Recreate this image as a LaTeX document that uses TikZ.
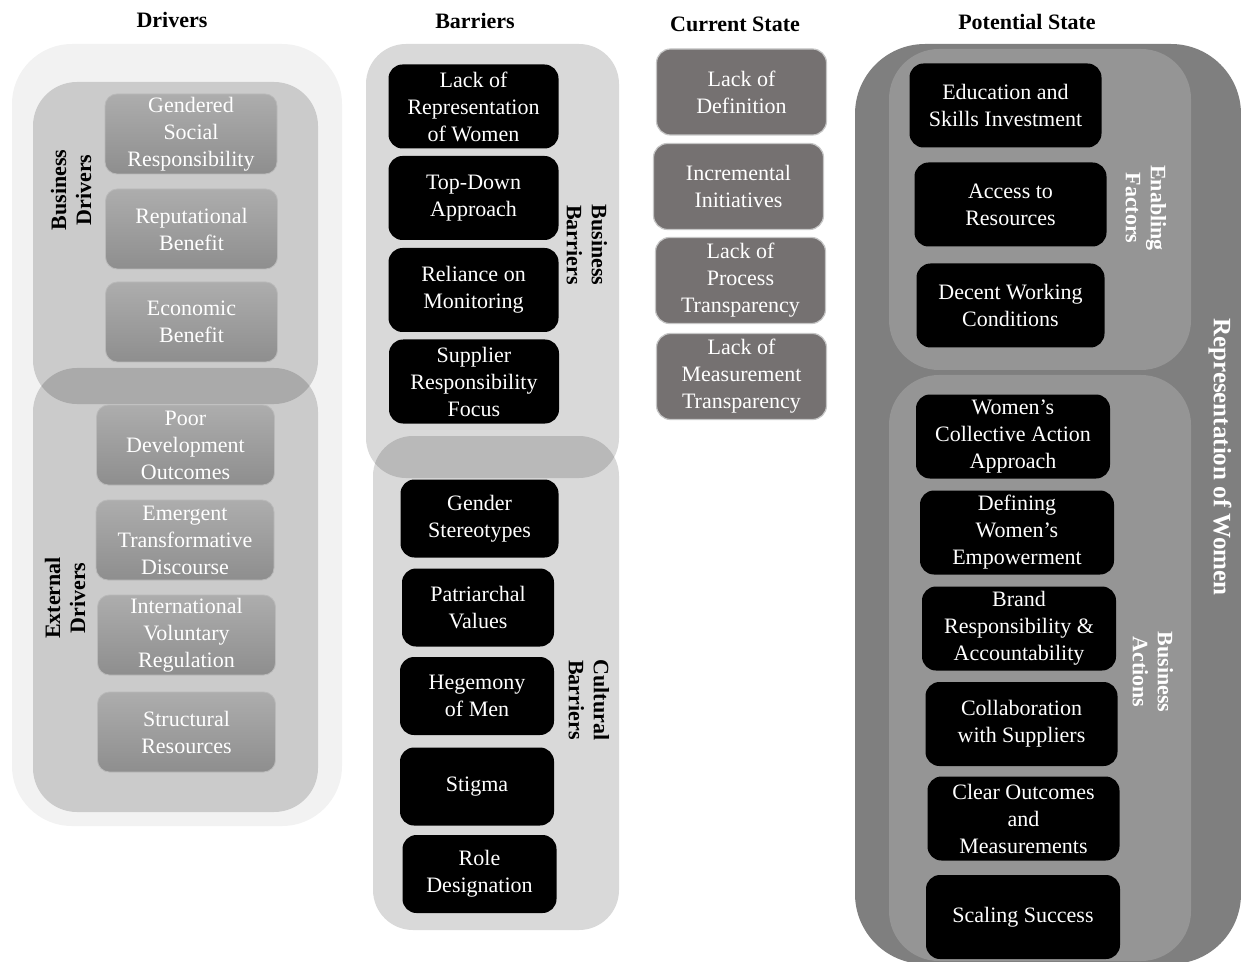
\documentclass[tikz,border=0pt]{standalone}
\usepackage{fontspec}
\setmainfont{Liberation Serif}
\usetikzlibrary{positioning}
\definecolor{drvback}{HTML}{F2F2F2}
\definecolor{drvtop}{HTML}{ADADAD}
\definecolor{drvbot}{HTML}{8E8E8E}
\definecolor{curgray}{HTML}{757171}
\definecolor{potout}{HTML}{7F7F7F}
\definecolor{potin}{HTML}{959595}

\begin{document}
\begin{tikzpicture}[x=0.5pt,y=-0.5pt,
  every node/.style={font=\fontsize{11}{13.5}\selectfont},
  title/.style={font=\fontsize{11}{13.5}\selectfont\bfseries},
  sidelbl/.style={font=\fontsize{11}{12.5}\selectfont\bfseries,align=center},
  drvbox/.style={rounded corners=6pt,top color=drvtop,bottom color=drvbot,draw=gray!55,
    text=white,align=center,minimum width=86pt,minimum height=40pt,inner sep=0pt},
  blkbox/.style={rounded corners=7pt,fill=black,text=white,align=center,
    minimum width=85pt,minimum height=42pt,inner sep=0pt},
  curbox/.style={rounded corners=7pt,fill=curgray,draw=gray!45,line width=0.6pt,
    text=white,align=center,minimum width=85pt,minimum height=43pt,inner sep=0pt},
  shade/.style={fill=black,fill opacity=0.15}]
\useasboundingbox (0,0) rectangle (1241,962);

% column titles
\node[title] (tdrv) at (172,20) {Drivers};
\node[title] (tbar) at (475,21) {Barriers};
\node[title] (tcur) at (735,24) {Current State};
\node[title] (tpot) at (1027,22) {Potential State};

% drivers
\fill[drvback,rounded corners=30pt] (12,44) rectangle (342,826);
\fill[shade,fill opacity=0.16,rounded corners=22pt] (33,82) rectangle (318,404);
\fill[shade,fill opacity=0.16,rounded corners=22pt] (33,368) rectangle (318,812);
\node[sidelbl,rotate=90] (bdrv) at (71,190) {Business\\Drivers};
\node[sidelbl,rotate=90] (edrv) at (65,598) {External\\Drivers};
\node[drvbox] (gsr) at (191,134) {Gendered\\Social\\Responsibility};
\node[drvbox] (rep) at (191.5,229) {Reputational\\Benefit};
\node[drvbox] (eco) at (191.5,322) {Economic\\Benefit};
\node[drvbox,minimum width=89pt] (pdo) at (185.5,445) {Poor\\Development\\Outcomes};
\node[drvbox,minimum width=89pt] (etd) at (185,540) {Emergent\\Transformative\\Discourse};
\node[drvbox,minimum width=89pt] (ivr) at (186.5,635) {International\\Voluntary\\Regulation};
\node[drvbox,minimum width=89pt] (str) at (186.5,732) {Structural\\Resources};

% barriers
\fill[shade,rounded corners=20pt] (366,44) rectangle (619,478);
\fill[shade,rounded corners=20pt] (373,436) rectangle (619,930);
\node[sidelbl,rotate=-90] (bbar) at (587,245) {Business\\Barriers};
\node[sidelbl,rotate=-90] (cbar) at (589,700) {Cultural\\Barriers};
\node[blkbox] (lrw) at (473.5,106.5) {Lack of\\Representation\\of Women};
\node[blkbox] (tda) at (473.5,198) {Top-Down\\Approach};
\node[blkbox] (rom) at (473.5,290) {Reliance on\\Monitoring};
\node[blkbox] (srf) at (474,381.5) {Supplier\\Responsibility\\Focus};
\node[blkbox,minimum width=79pt,minimum height=39pt] (gst) at (479.5,518.5) {Gender\\Stereotypes};
\node[blkbox,minimum width=76pt,minimum height=39pt] (pva) at (478,607.5) {Patriarchal\\Values};
\node[blkbox,minimum width=77pt,minimum height=39pt] (hom) at (477,696) {Hegemony\\of Men};
\node[blkbox,minimum width=77pt,minimum height=39pt] (stg) at (477,786.5) {Stigma};
\node[blkbox,minimum width=77pt,minimum height=39pt] (rde) at (479.5,874) {Role\\Designation};

% current state
\node[curbox] (lod) at (741.5,92) {Lack of\\Definition};
\node[curbox] (inc) at (738.5,186.5) {Incremental\\Initiatives};
\node[curbox] (lpt) at (740.5,280.5) {Lack of\\Process\\Transparency};
\node[curbox] (lmt) at (741.5,376.5) {Lack of\\Measurement\\Transparency};

% potential state
\fill[potout,rounded corners=35pt] (855,44) rectangle (1241,964);
\fill[potin,rounded corners=25pt] (889,49) rectangle (1191,370);
\fill[potin,rounded corners=25pt] (889,375) rectangle (1191,961);
\node[sidelbl,rotate=-90,text=white,font=\fontsize{12.5}{14}\selectfont\bfseries] (row) at (1220,457) {Representation of Women};
\node[sidelbl,rotate=-90,text=white] (enf) at (1146,208) {Enabling\\Factors};
\node[sidelbl,rotate=-90,text=white] (bac) at (1153,672) {Business\\Actions};
\node[blkbox,minimum width=96pt] (esi) at (1005.5,105.5) {Education and\\Skills Investment};
\node[blkbox,minimum width=96pt] (atr) at (1010.5,204.5) {Access to\\Resources};
\node[blkbox,minimum width=94pt] (dwc) at (1010.5,305.5) {Decent Working\\Conditions};
\node[blkbox,minimum width=97pt] (wca) at (1013,436.5) {Women’s\\Collective Action\\Approach};
\node[blkbox,minimum width=97pt] (dwe) at (1017,532.5) {Defining\\Women’s\\Empowerment};
\node[blkbox,minimum width=97pt] (bra) at (1019,628.5) {Brand\\Responsibility \&\\Accountability};
\node[blkbox,minimum width=96pt] (cws) at (1021.5,724) {Collaboration\\with Suppliers};
\node[blkbox,minimum width=96pt] (com) at (1023.5,818.5) {Clear Outcomes\\and\\Measurements};
\node[blkbox,minimum width=97pt] (ssu) at (1023,917) {Scaling Success};
\end{tikzpicture}
\end{document}
